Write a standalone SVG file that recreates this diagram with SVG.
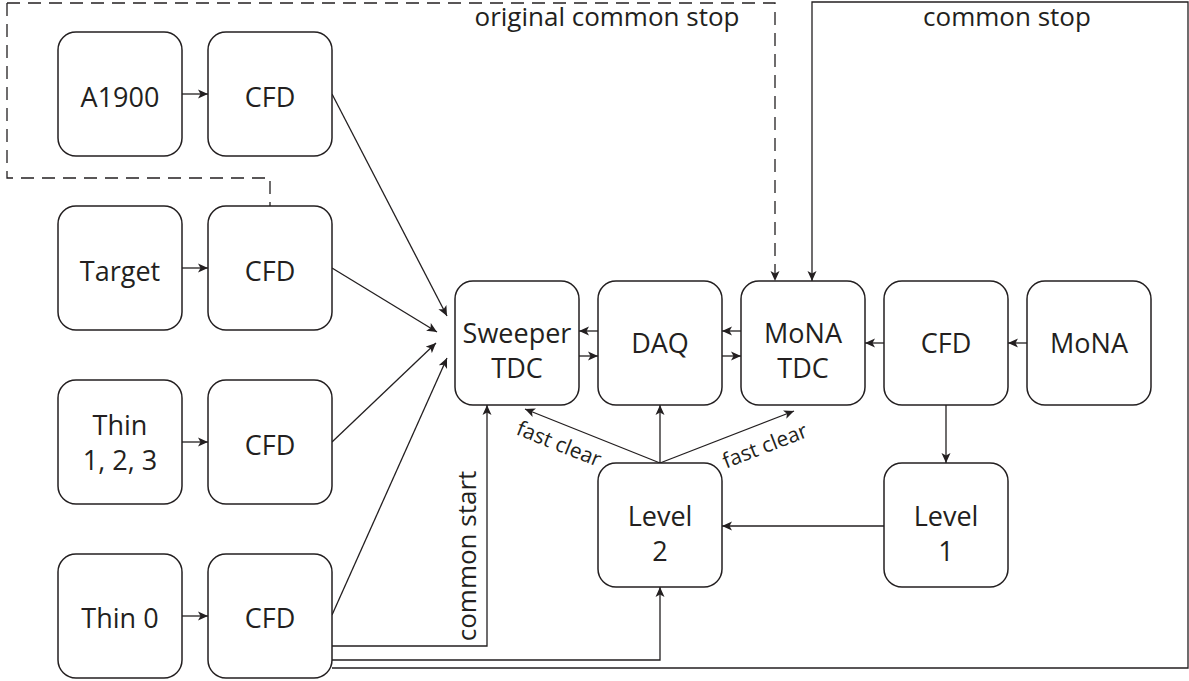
<svg xmlns="http://www.w3.org/2000/svg" width="1189" height="681" viewBox="0 0 1189 681">
<style>
.box{fill:#fff;stroke:#231f20;stroke-width:1.5}
.lbl{font-family:"Open Sans","Noto Sans",sans-serif;font-size:27px;fill:#231f20;text-anchor:middle}
.note{font-family:"Open Sans","Noto Sans",sans-serif;font-size:26px;fill:#231f20;text-anchor:middle}
.fc{font-family:"Open Sans","Noto Sans",sans-serif;font-size:21px;fill:#231f20;text-anchor:middle}
.ln{fill:none;stroke:#231f20;stroke-width:1.3}
.arr{marker-end:url(#ah)}
.dash{stroke-dasharray:13 8}
</style>
<defs>
<marker id="ah" viewBox="0 -5 10 10" refX="10" refY="0" markerWidth="10" markerHeight="10" markerUnits="userSpaceOnUse" orient="auto">
<path d="M0,-4.5 L10,0 L0,4.5 L2.5,0 z" fill="#231f20"/>
</marker>
</defs>
<g id="connectors">
<path class="ln dash" d="M7,3 V178 H270 V206"/>
<path class="ln dash" d="M7,3 H775 V281" marker-end="url(#ah)"/>
<path class="ln arr" d="M332,668 H1188 V2 H812 V281"/>
<path class="ln arr" d="M182,94 H208"/>
<path class="ln arr" d="M182,268 H208"/>
<path class="ln arr" d="M182,442 H208"/>
<path class="ln arr" d="M182,616 H208"/>
<path class="ln arr" d="M332,94 L447,316"/>
<path class="ln arr" d="M332,268 L437,332"/>
<path class="ln arr" d="M332,442 L436,343"/>
<path class="ln arr" d="M332,615 L447,358"/>
<path class="ln arr" d="M332,646 H487 V405"/>
<path class="ln arr" d="M332,660 H660 V587"/>
<path class="ln arr" d="M598,331 H579"/>
<path class="ln arr" d="M579,356 H598"/>
<path class="ln arr" d="M741,331 H722"/>
<path class="ln arr" d="M722,356 H741"/>
<path class="ln arr" d="M884,343 H865"/>
<path class="ln arr" d="M1027,343 H1008"/>
<path class="ln arr" d="M946,404 V463"/>
<path class="ln arr" d="M884,526 H722"/>
<path class="ln arr" d="M660,463 L525,409"/>
<path class="ln arr" d="M660,463 V405"/>
<path class="ln arr" d="M660,463 L794,411"/>
<text class="note" x="607" y="26">original common stop</text>
<text class="note" x="1007" y="26">common stop</text>
<text class="note" transform="translate(476,556) rotate(-90)">common start</text>
<text class="fc" transform="translate(559,444) rotate(21.8)" y="7">fast clear</text>
<text class="fc" transform="translate(765,446) rotate(-21.2)" y="7">fast clear</text>
</g>
<g id="a1900"><rect class="box" x="58" y="32" width="124" height="124" rx="18"/><text class="lbl" x="120" y="107">A1900</text></g>
<g id="cfd1"><rect class="box" x="208" y="32" width="124" height="124" rx="18"/><text class="lbl" x="270" y="107">CFD</text></g>
<g id="target"><rect class="box" x="58" y="206" width="124" height="124" rx="18"/><text class="lbl" x="120" y="281">Target</text></g>
<g id="cfd2"><rect class="box" x="208" y="206" width="124" height="124" rx="18"/><text class="lbl" x="270" y="281">CFD</text></g>
<g id="thin123"><rect class="box" x="58" y="380" width="124" height="124" rx="18"/><text class="lbl" x="120" y="435">Thin</text><text class="lbl" x="120" y="470">1, 2, 3</text></g>
<g id="cfd3"><rect class="box" x="208" y="380" width="124" height="124" rx="18"/><text class="lbl" x="270" y="455">CFD</text></g>
<g id="thin0"><rect class="box" x="58" y="554" width="124" height="124" rx="18"/><text class="lbl" x="120" y="628">Thin 0</text></g>
<g id="cfd4"><rect class="box" x="208" y="554" width="124" height="124" rx="18"/><text class="lbl" x="270" y="628">CFD</text></g>
<g id="sweeper"><rect class="box" x="455" y="281" width="124" height="124" rx="18"/><text class="lbl" x="517" y="343">Sweeper</text><text class="lbl" x="517" y="378">TDC</text></g>
<g id="daq"><rect class="box" x="598" y="281" width="124" height="124" rx="18"/><text class="lbl" x="660" y="353">DAQ</text></g>
<g id="monatdc"><rect class="box" x="741" y="281" width="124" height="124" rx="18"/><text class="lbl" x="803" y="343">MoNA</text><text class="lbl" x="803" y="378">TDC</text></g>
<g id="cfd5"><rect class="box" x="884" y="281" width="124" height="124" rx="18"/><text class="lbl" x="946" y="353">CFD</text></g>
<g id="mona"><rect class="box" x="1027" y="281" width="124" height="124" rx="18"/><text class="lbl" x="1089" y="353">MoNA</text></g>
<g id="level2"><rect class="box" x="598" y="463" width="124" height="124" rx="18"/><text class="lbl" x="660" y="526">Level</text><text class="lbl" x="660" y="561">2</text></g>
<g id="level1"><rect class="box" x="884" y="463" width="124" height="124" rx="18"/><text class="lbl" x="946" y="526">Level</text><text class="lbl" x="946" y="561">1</text></g>
</svg>
